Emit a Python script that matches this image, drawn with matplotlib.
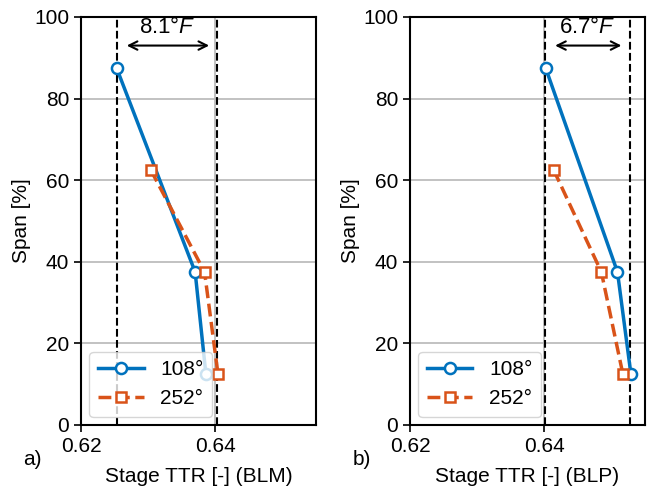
import matplotlib
matplotlib.use("Agg")
import matplotlib.pyplot as plt

plt.rcParams['font.family'] = ['Liberation Sans', 'DejaVu Sans']
plt.rcParams['font.size'] = 15
plt.rcParams['mathtext.fontset'] = 'custom'
plt.rcParams['mathtext.it'] = 'Liberation Sans:italic'
plt.rcParams['mathtext.rm'] = 'Liberation Sans'

span_108 = [87.5, 37.5, 12.5]
span_252 = [62.5, 37.5, 12.5]

blm_108 = [0.6253, 0.6370, 0.6386]
blm_252 = [0.6304, 0.6384, 0.6404]
blm_bounds = [0.6253, 0.6403]
blm_label = "8.1°$F$"

blp_108 = [0.6402, 0.6509, 0.6529]
blp_252 = [0.6414, 0.6485, 0.6517]
blp_bounds = [0.6401, 0.6527]
blp_label = "6.7°$F$"

xticks = [0.62, 0.64]
yticks = [0, 20, 40, 60, 80, 100]

blue = '#0072BD'
orange = '#D95319'

fig = plt.figure(figsize=(6.49, 4.95), dpi=100)
W, H = 649, 495
ax1 = fig.add_axes([81/W, 1-425/H, 235/W, 408/H])
ax2 = fig.add_axes([410/W, 1-425/H, 235/W, 408/H])

def draw(ax, x108, x252, bounds, label, xlabel, panel):
    ax.grid(True, color='#b8b8b8', lw=1.2, zorder=0)
    ax.set_axisbelow(True)
    for b in bounds:
        ax.axvline(b, color='k', ls='--', lw=1.5, zorder=1)
    ax.plot(x108, span_108, '-o', color=blue, lw=2.5, ms=8, mfc='white', mew=1.8, label='108°', zorder=3)
    ax.plot(x252, span_252, '--s', color=orange, lw=2.5, ms=7.5, mfc='white', mew=1.8, label='252°', zorder=3)
    ax.annotate('', xy=(bounds[1] - 0.0008, 93), xytext=(bounds[0] + 0.0011, 93),
                arrowprops=dict(arrowstyle='<->', color='k', lw=1.5, mutation_scale=15))
    ax.text((bounds[0] + bounds[1]) / 2, 94.8, label, ha='center', va='bottom', fontsize=16)
    ax.set_xlim(0.62, 0.655)
    ax.set_ylim(0, 100)
    ax.set_xticks(xticks)
    ax.set_xticklabels(['0.62', '0.64'])
    ax.set_yticks(yticks)
    ax.set_xlabel(xlabel, labelpad=8)
    ax.set_ylabel('Span [%]', labelpad=2)
    ax.tick_params(direction='out', length=5, width=1.2)
    for s in ax.spines.values():
        s.set_linewidth(1.5)
    leg = ax.legend(loc='lower left', fontsize=15, handlelength=2.2, framealpha=0.8,
                    borderaxespad=0.4)
    leg.set_zorder(5)
    ax.text(-0.245, -0.085, panel, transform=ax.transAxes, fontsize=15, va='center', ha='left')

draw(ax1, blm_108, blm_252, blm_bounds, blm_label, 'Stage TTR [-] (BLM)', 'a)')
draw(ax2, blp_108, blp_252, blp_bounds, blp_label, 'Stage TTR [-] (BLP)', 'b)')

fig.savefig('out.png', dpi=100)
